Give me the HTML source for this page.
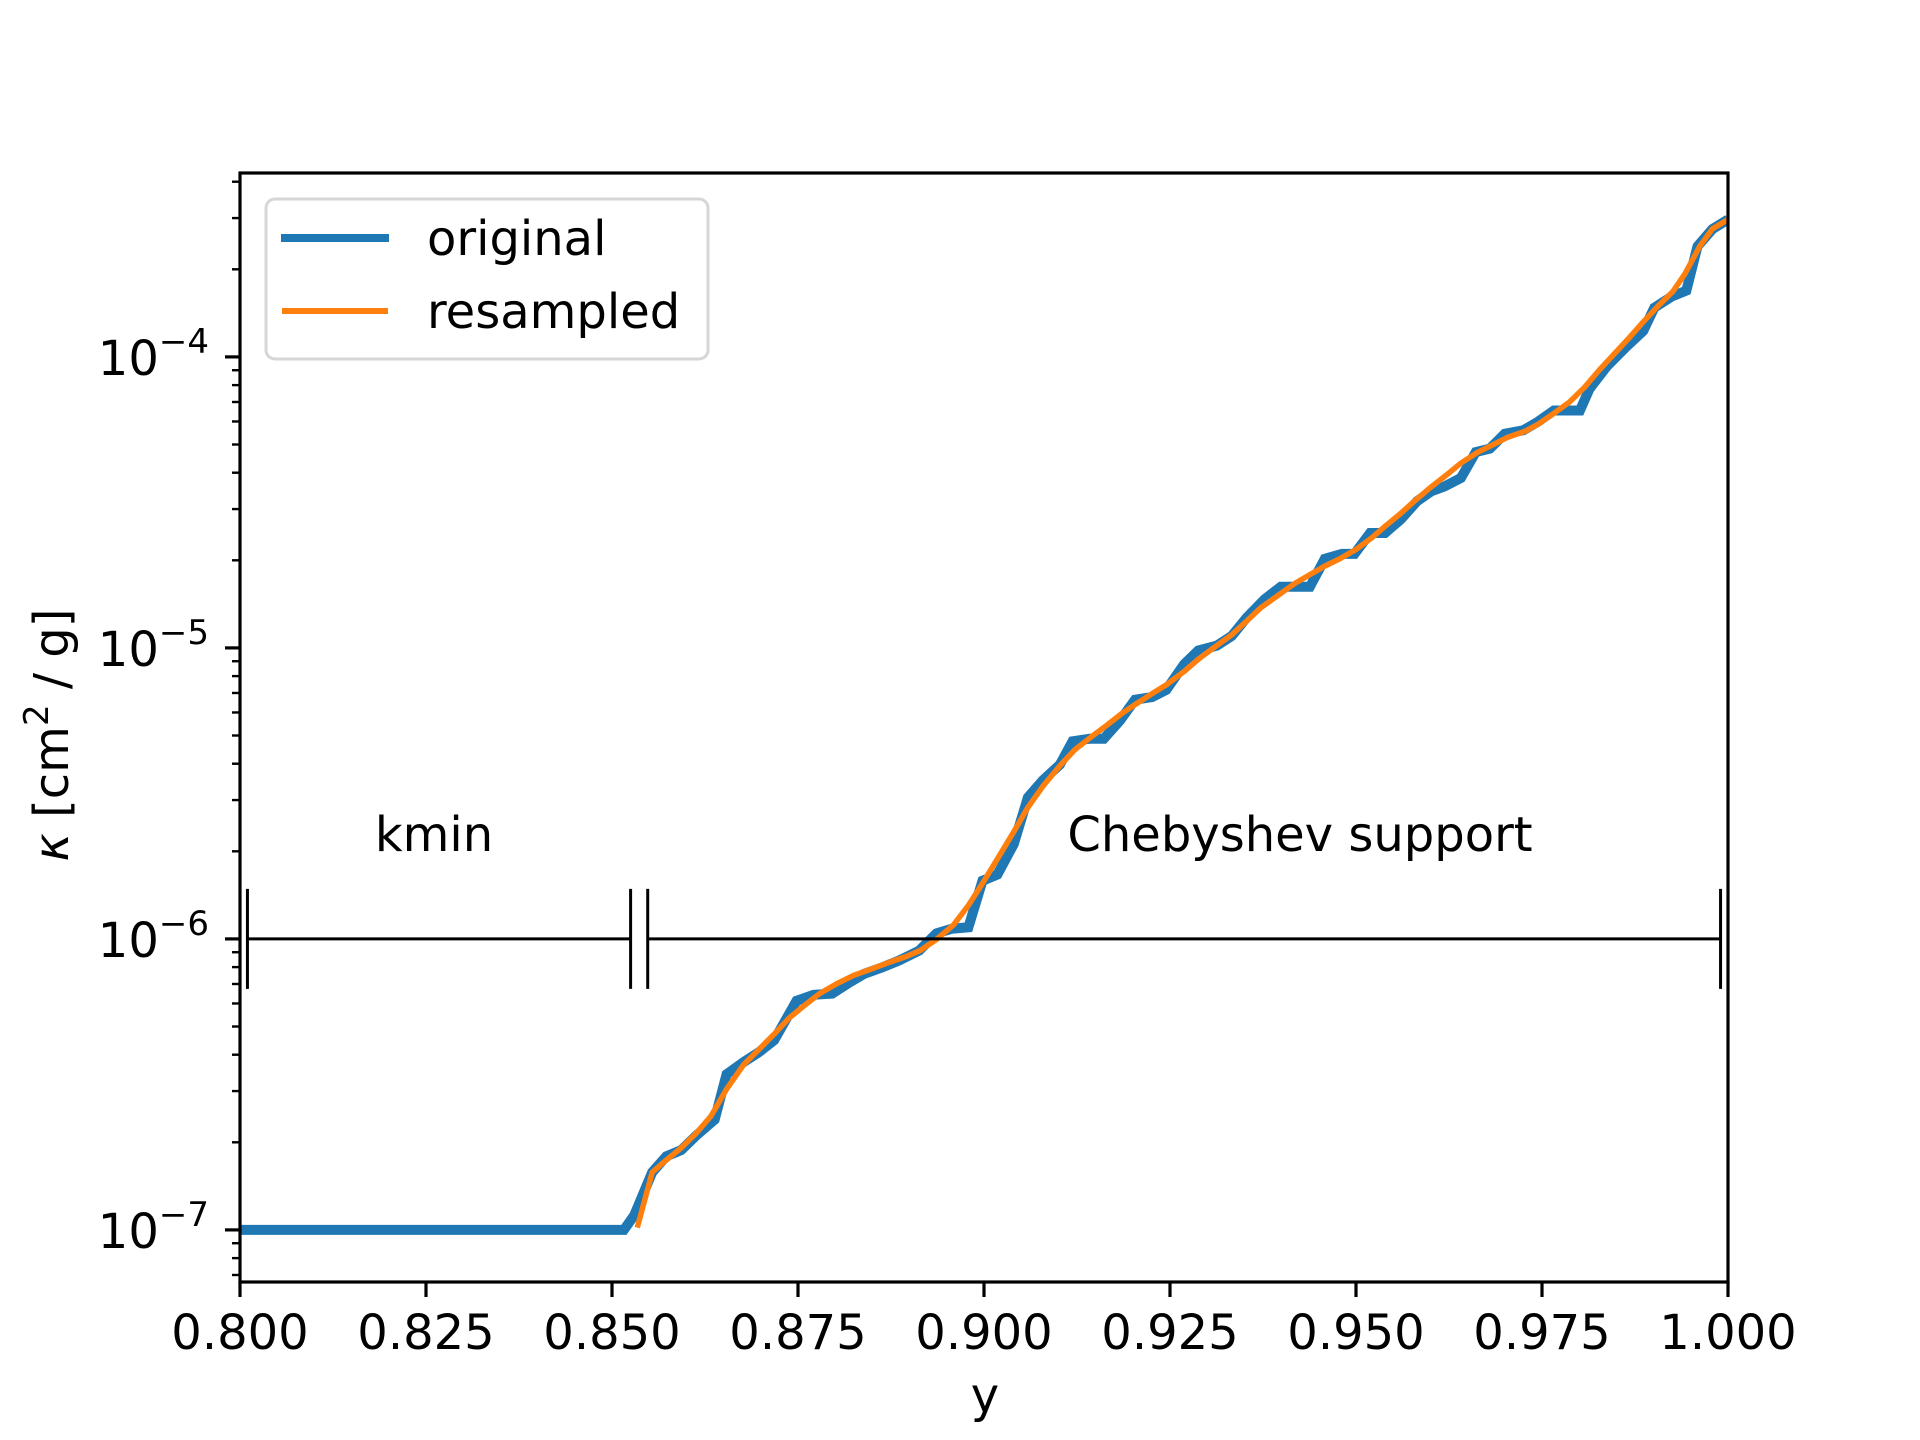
<!DOCTYPE html>
<html><head><meta charset="utf-8"><style>
html,body{margin:0;padding:0;background:#fff;}
svg{display:block;font-family:"DejaVu Sans","Liberation Sans",sans-serif;}
</style></head><body>
<svg id="chart" width="1920" height="1440" viewBox="0 0 1920 1440" xmlns="http://www.w3.org/2000/svg">
<rect width="1920" height="1440" fill="#fff"/>
<g id="plot"></g>
</svg>
<script>
const xTicks = [0.8, 0.825, 0.85, 0.875, 0.9, 0.925, 0.95, 0.975, 1.0];
const xTickLabels = ["0.800","0.825","0.850","0.875","0.900","0.925","0.950","0.975","1.000"];
const yDecades = [-7, -6, -5, -4];
const origX = [0.8,0.8516,0.8530,0.8554,0.8573,0.8593,0.8613,0.8638,0.8654,0.8677,0.8697,0.8718,0.8748,0.8771,0.8796,0.8819,0.8839,0.8862,0.8886,0.8913,0.8936,0.8957,0.8979,0.8998,0.9018,0.9040,0.9059,0.9079,0.9102,0.9119,0.9142,0.9161,0.9183,0.9203,0.9226,0.9245,0.9269,0.9288,0.9313,0.9333,0.9353,0.9377,0.9399,0.9418,0.9438,0.9458,0.9481,0.9498,0.9519,0.9539,0.9560,0.9582,0.9601,0.9619,0.9641,0.9661,0.9680,0.9700,0.9725,0.9745,0.9766,0.9801,0.9814,0.9837,0.9863,0.9886,0.9901,0.9924,0.9944,0.9959,0.9979,1.0];
const origLogK = [-7,-7,-6.949,-6.802,-6.747,-6.726,-6.676,-6.621,-6.465,-6.423,-6.390,-6.348,-6.213,-6.192,-6.188,-6.150,-6.120,-6.099,-6.074,-6.040,-5.981,-5.965,-5.960,-5.800,-5.779,-5.674,-5.514,-5.455,-5.401,-5.321,-5.312,-5.312,-5.249,-5.178,-5.169,-5.144,-5.056,-5.009,-4.992,-4.959,-4.896,-4.833,-4.790,-4.790,-4.790,-4.694,-4.677,-4.677,-4.605,-4.605,-4.559,-4.496,-4.462,-4.445,-4.416,-4.327,-4.315,-4.264,-4.252,-4.222,-4.184,-4.184,-4.109,-4.033,-3.966,-3.911,-3.831,-3.793,-3.772,-3.620,-3.561,-3.528];
const resX = [0.8534,0.8554,0.8573,0.8593,0.8613,0.8633,0.8654,0.8677,0.8697,0.8718,0.8738,0.8758,0.8779,0.8802,0.8825,0.8848,0.8871,0.8895,0.8914,0.8936,0.8959,0.8979,0.8998,0.9018,0.9040,0.9059,0.9079,0.9102,0.9122,0.9145,0.9165,0.9186,0.9206,0.9226,0.9245,0.9269,0.9288,0.9310,0.9333,0.9353,0.9372,0.9395,0.9418,0.9438,0.9458,0.9478,0.9501,0.9521,0.9540,0.9560,0.9580,0.9600,0.9621,0.9641,0.9664,0.9684,0.9703,0.9727,0.9745,0.9768,0.9787,0.9807,0.9827,0.9847,0.9867,0.9886,0.9906,0.9926,0.9942,0.9962,0.9979,1.0];
const resLogK = [-6.992,-6.802,-6.760,-6.718,-6.668,-6.609,-6.516,-6.432,-6.381,-6.327,-6.272,-6.230,-6.188,-6.154,-6.125,-6.104,-6.082,-6.061,-6.040,-6.002,-5.952,-5.885,-5.809,-5.725,-5.632,-5.548,-5.476,-5.405,-5.350,-5.304,-5.266,-5.224,-5.190,-5.157,-5.127,-5.081,-5.039,-4.997,-4.955,-4.908,-4.862,-4.820,-4.778,-4.748,-4.719,-4.694,-4.660,-4.622,-4.580,-4.538,-4.492,-4.449,-4.407,-4.365,-4.327,-4.302,-4.277,-4.256,-4.231,-4.190,-4.155,-4.105,-4.045,-3.990,-3.935,-3.880,-3.825,-3.775,-3.715,-3.620,-3.560,-3.528];
const kminRange = [0.801, 0.8525];
const chebRange = [0.8548, 0.9990];
const barLogK = -6;

const L=240,R=1728,T=173,B=1282;
const xMin=0.8,xMax=1.0,yMin=-7.179,yMax=-3.368;
const sx=v=>L+(v-xMin)/(xMax-xMin)*(R-L);
const sy=v=>B-(v-yMin)/(yMax-yMin)*(B-T);
const NS="http://www.w3.org/2000/svg";
const g=document.getElementById('plot');
function mk(tag,attrs,parent){const e=document.createElementNS(NS,tag);for(const k in attrs)e.setAttribute(k,attrs[k]);(parent||g).appendChild(e);return e;}

const defs=mk('defs',{});
const cp=mk('clipPath',{id:'clip'},defs);mk('rect',{x:L,y:T,width:R-L,height:B-T},cp);

const orig=mk('polyline',{points:origX.map((x,i)=>sx(x)+','+sy(origLogK[i])).join(' '),fill:'none',stroke:'#1f77b4','stroke-width':10,'stroke-linejoin':'miter','clip-path':'url(#clip)'});


const res=mk('polyline',{points:resX.map((x,i)=>sx(x)+','+sy(resLogK[i])).join(' '),fill:'none',stroke:'#ff7f0e','stroke-width':5.5,'stroke-linejoin':'round','clip-path':'url(#clip)'});



function rangeBar(r,name){
  const gg=mk('g',{});
  
  
  const yy=sy(barLogK);
  mk('line',{x1:sx(r[0]),x2:sx(r[1]),y1:yy,y2:yy,stroke:'#000','stroke-width':3},gg);
  for(const v of r) mk('line',{x1:sx(v),x2:sx(v),y1:yy-50,y2:yy+50,stroke:'#000','stroke-width':3},gg);
}
rangeBar(kminRange,'kmin-range-bar');
rangeBar(chebRange,'chebyshev-range-bar');
const t1=mk('text',{x:(sx(kminRange[0])+sx(kminRange[1]))/2-5,y:sy(barLogK)-88,'font-size':48,'text-anchor':'middle'});t1.textContent='kmin';


const t2=mk('text',{x:1300,y:sy(barLogK)-88,'font-size':48,'text-anchor':'middle'});t2.textContent='Chebyshev support';



const fr=mk('rect',{x:L,y:T,width:R-L,height:B-T,fill:'none',stroke:'#000','stroke-width':3.2});



xTicks.forEach((v,i)=>{
  const x=sx(v);
  const tk=mk('line',{x1:x,x2:x,y1:B,y2:B+15,stroke:'#000','stroke-width':3.2});
  
  
  const tl=mk('text',{x:x,y:B+67,'font-size':48,'text-anchor':'middle'});tl.textContent=xTickLabels[i];
  
  
});
for(let d=-8;d<=-3;d++){
  for(let m=1;m<=9;m++){
    const lv=d+Math.log10(m);
    if(lv<yMin||lv>yMax)continue;
    const y=sy(lv);const major=m===1;
    const tk=mk('line',{x1:L-(major?15:8),x2:L,y1:y,y2:y,stroke:'#000','stroke-width':major?3.2:2.4});
    
    
  }
}
yDecades.forEach(d=>{
  const y=sy(d);
  const tl=mk('text',{x:209,y:y+18,'font-size':48,'text-anchor':'end'});
  const a=mk('tspan',{},tl);a.textContent='10';
  const b=mk('tspan',{dy:-22,'font-size':34},tl);b.textContent='−'+(-d);
  
  
});
const xl=mk('text',{x:985,y:1412,'font-size':48,'text-anchor':'middle'});xl.textContent='y';


const yl=mk('text',{x:0,y:0,'font-size':48,'text-anchor':'middle',transform:'translate(68,735) rotate(-90)'});
const y1=mk('tspan',{'font-style':'italic'},yl);y1.textContent='κ';
const y2=mk('tspan',{},yl);y2.textContent=' [cm';
const y3=mk('tspan',{dy:-20,'font-size':34},yl);y3.textContent='2';
const y4=mk('tspan',{dy:20},yl);y4.textContent=' / g]';



const lg=mk('g',{});


mk('rect',{x:266,y:199,width:442,height:160,rx:9,fill:'#fff','fill-opacity':0.8,stroke:'#d6d6d6','stroke-width':3},lg);
mk('line',{x1:281,x2:389,y1:238,y2:238,stroke:'#1f77b4','stroke-width':8},lg);
mk('line',{x1:282,x2:388,y1:311,y2:311,stroke:'#ff7f0e','stroke-width':6},lg);
const le1=mk('text',{x:427,y:255,'font-size':48},lg);le1.textContent='original';


const le2=mk('text',{x:427,y:328,'font-size':48},lg);le2.textContent='resampled';


</script>
</body></html>
